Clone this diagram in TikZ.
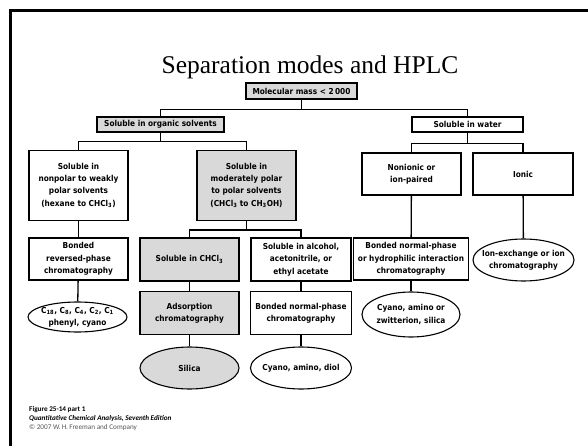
\documentclass[tikz,border=0pt]{standalone}
\usepackage{fontspec}
\setmainfont{Liberation Serif}
\newfontfamily\boxfont{DejaVu Sans Condensed}
\newfontfamily\notefont{Carlito}
\usepackage{tikz}
\usetikzlibrary{shapes.geometric}
\definecolor{boxgray}{HTML}{D9D9D9}
\definecolor{notegray}{HTML}{555555}
\tikzset{
  box/.style={draw=black, line width=1.1pt, fill=white, align=center, inner sep=0pt,
    font=\boxfont\bfseries\fontsize{8.2}{12.3}\selectfont},
  shaded/.style={box, fill=boxgray},
  oval/.style={box, ellipse, inner xsep=-9pt},
  link/.style={draw=black, line width=1.3pt},
  note/.style={anchor=base west, inner sep=0pt, font=\notefont\fontsize{7.2}{8}\selectfont}
}

\begin{document}
\begin{tikzpicture}[x=1pt, y=-1pt]
  \useasboundingbox (0,0) rectangle (588,446);
  % frame and title
  \draw[line width=3pt] (10,446) -- (10,11) -- (588,11);
  \node[anchor=base, inner sep=0pt, font=\fontsize{25.5}{30}\selectfont] (title) at (310,74) {Separation modes and HPLC};

  % first levels
  \node[shaded, minimum width=111, minimum height=16] (mass) at (301.5,91) {Molecular mass < 2\,000};
  \node[shaded, minimum width=127, minimum height=15] (organic) at (160.5,124.5) {Soluble in organic solvents};
  \node[box, minimum width=111, minimum height=15] (water) at (467.5,124.5) {Soluble in water};

  \node[box, minimum width=99, minimum height=70] (nonpolar) at (78.5,185.5) {Soluble in\\nonpolar to weakly\\polar solvents\\(hexane to CHCl\textsubscript{3})};
  \node[shaded, minimum width=99, minimum height=70] (moderate) at (246.5,185.5) {Soluble in\\moderately polar\\to polar solvents\\(CHCl\textsubscript{3} to CH\textsubscript{3}OH)};
  \node[box, minimum width=99, minimum height=42] (nonionic) at (411.5,174) {Nonionic or\\ion-paired};
  \node[box, minimum width=100, minimum height=42] (ionic) at (523,174) {Ionic};

  % methods
  \node[box, minimum width=99, minimum height=42] (reversed) at (78.5,259) {Bonded\\reversed-phase\\chromatography};
  \node[shaded, minimum width=99, minimum height=43] (chcl) at (189.5,259.5) {Soluble in CHCl\textsubscript{3}};
  \node[box, minimum width=100, minimum height=43] (alcohol) at (301,259.5) {Soluble in alcohol,\\acetonitrile, or\\ethyl acetate};
  \node[box, minimum width=115, minimum height=42] (hilic) at (411,259) {Bonded normal-phase\\or hydrophilic interaction\\chromatography};
  \node[oval, minimum width=101, minimum height=42] (ionex) at (523.5,260) {Ion-exchange or ion\\chromatography};

  \node[oval, minimum width=99, minimum height=30] (alkyl) at (77.5,317) {C\textsubscript{18}, C\textsubscript{8}, C\textsubscript{4}, C\textsubscript{2}, C\textsubscript{1}\\phenyl, cyano};
  \node[shaded, minimum width=99, minimum height=43] (adsorption) at (189.5,313) {Adsorption\\chromatography};
  \node[box, minimum width=101, minimum height=43] (normal) at (301,313) {Bonded normal-phase\\chromatography};
  \node[oval, minimum width=98, minimum height=45] (zwitter) at (411,314.5) {Cyano, amino or\\zwitterion, silica};

  \node[oval, fill=boxgray, minimum width=99, minimum height=42] (silica) at (189.5,368) {Silica};
  \node[oval, minimum width=101, minimum height=42] (diol) at (301,368) {Cyano, amino, diol};

  % connectors
  \draw[link] (mass.south) -- ++(0,10) -| (organic.north);
  \draw[link] (mass.south) -- ++(0,10) -| (water.north);
  \draw[link] (organic.south) -- ++(0,9) -| (nonpolar.north);
  \draw[link] (organic.south) -- ++(0,9) -| (moderate.north);
  \draw[link] (water.south) -- ++(0,11) -| (nonionic.north);
  \draw[link] (water.south) -- ++(0,11) -| (ionic.north);
  \draw[link] (moderate.south) -- ++(0,9) -| (chcl.north);
  \draw[link] (moderate.south) -- ++(0,9) -| (alcohol.north);
  \draw[link] (nonpolar) -- (reversed);
  \draw[link] (reversed) -- (alkyl);
  \draw[link] (chcl) -- (adsorption);
  \draw[link] (adsorption) -- (silica);
  \draw[link] (alcohol) -- (normal);
  \draw[link] (normal) -- (diol);
  \draw[link] (nonionic) -- (hilic);
  \draw[link] (hilic) -- (zwitter);
  \draw[link] (ionic) -- (ionex);

  % source lines
  \node[note, font=\notefont\bfseries\fontsize{7.2}{8}\selectfont] (fig) at (29,411) {Figure 25-14 part 1};
  \node[note, font=\notefont\bfseries\itshape\fontsize{7.2}{8}\selectfont] (book) at (29,420) {Quantitative Chemical Analysis, Seventh Edition};
  \node[note, text=notegray] (copy) at (29,429) {\textcopyright\ 2007 W.\,H.\,Freeman and Company};
\end{tikzpicture}
\end{document}
